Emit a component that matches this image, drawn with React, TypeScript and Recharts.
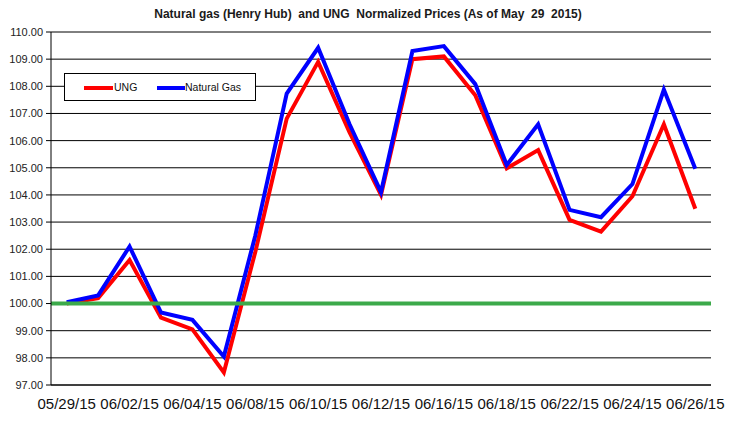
import React from 'react';
import { LineChart, Line, XAxis, YAxis, CartesianGrid, ReferenceLine, Legend } from 'recharts';

const dates = ['05/29/15','06/01/15','06/02/15','06/03/15','06/04/15','06/05/15','06/08/15','06/09/15','06/10/15','06/11/15','06/12/15','06/15/15','06/16/15','06/17/15','06/18/15','06/19/15','06/22/15','06/23/15','06/24/15','06/25/15','06/26/15'];
const ung = [100.0, 100.2, 101.6, 99.48, 99.05, 97.46, 101.9, 106.81, 108.9, 106.3, 104.0, 109.0, 109.1, 107.67, 104.98, 105.65, 103.08, 102.65, 103.95, 106.6, 103.49];
const naturalGas = [100.05, 100.3, 102.1, 99.67, 99.4, 98.05, 102.5, 107.73, 109.42, 106.6, 104.1, 109.3, 109.48, 108.08, 105.1, 106.6, 103.45, 103.18, 104.4, 107.88, 104.96];
const yTicks = [97, 98, 99, 100, 101, 102, 103, 104, 105, 106, 107, 108, 109, 110];
const baseline = 100;
const title = 'Natural gas (Henry Hub)  and UNG  Normalized Prices (As of May  29  2015)';

const data = dates.map((d, i) => ({ date: d, ung: ung[i], gas: naturalGas[i] }));

const FONT = "Arial, 'Liberation Sans', sans-serif";

const LegendBox = () => (
  <div style={{ position: 'relative', width: 190, height: 26, border: '1px solid #000', background: '#fff', fontFamily: FONT, fontSize: 10.5, color: '#111' }}>
    <div style={{ position: 'absolute', left: 19, top: 12, width: 29, height: 4, background: '#ff0000' }} />
    <div style={{ position: 'absolute', left: 49, top: 6, lineHeight: '14px' }}>UNG</div>
    <div style={{ position: 'absolute', left: 92, top: 12, width: 28, height: 4, background: '#0000ff' }} />
    <div style={{ position: 'absolute', left: 120, top: 6, lineHeight: '14px' }}>Natural Gas</div>
  </div>
);

export default function App() {
  return (
    <div style={{ position: 'absolute', left: 0, top: 0, width: 736, height: 424, background: '#fff' }}>
      <div style={{ position: 'absolute', left: 0, top: 7, width: 736, textAlign: 'center', fontFamily: FONT, fontWeight: 'bold', fontSize: 12, color: '#1a1a1a', whiteSpace: 'pre', zIndex: 2 }}>
        {title}
      </div>
      <LineChart width={736} height={424} data={data} margin={{ top: 32, right: 25, bottom: 0, left: 0 }}>
        <CartesianGrid vertical={false} stroke="#000" strokeWidth={1} />
        <XAxis
          dataKey="date"
          interval={1}
          padding={{ left: 15.7, right: 15.7 }}
          axisLine={{ stroke: '#000' }}
          tickLine={false}
          tickSize={8}
          tickMargin={5}
          height={39}
          tick={{ fontSize: 15, fill: '#111', fontFamily: FONT }}
        />
        <YAxis
          domain={[97, 110]}
          ticks={yTicks}
          width={51}
          tickFormatter={(v: number) => v.toFixed(2)}
          axisLine={{ stroke: '#000' }}
          tickLine={{ stroke: '#000' }}
          tickSize={5}
          tickMargin={3}
          tick={{ fontSize: 11, fill: '#222', fontFamily: FONT }}
          interval={0}
        />
        <YAxis
          yAxisId="right"
          orientation="right"
          domain={[97, 110]}
          width={0}
          tick={false}
          tickLine={false}
          axisLine={{ stroke: '#000' }}
        />
        <Legend
          layout="horizontal"
          verticalAlign="middle"
          align="center"
          wrapperStyle={{ left: 64, top: 73, width: 192, height: 28 }}
          content={() => <LegendBox />}
        />
        <Line type="linear" dataKey="ung" name="UNG" stroke="#ff0000" strokeWidth={4} dot={false} isAnimationActive={false} />
        <Line type="linear" dataKey="gas" name="Natural Gas" stroke="#0000ff" strokeWidth={4} dot={false} isAnimationActive={false} />
        <ReferenceLine y={baseline} stroke="#3caa4a" strokeWidth={4} />
      </LineChart>
    </div>
  );
}
